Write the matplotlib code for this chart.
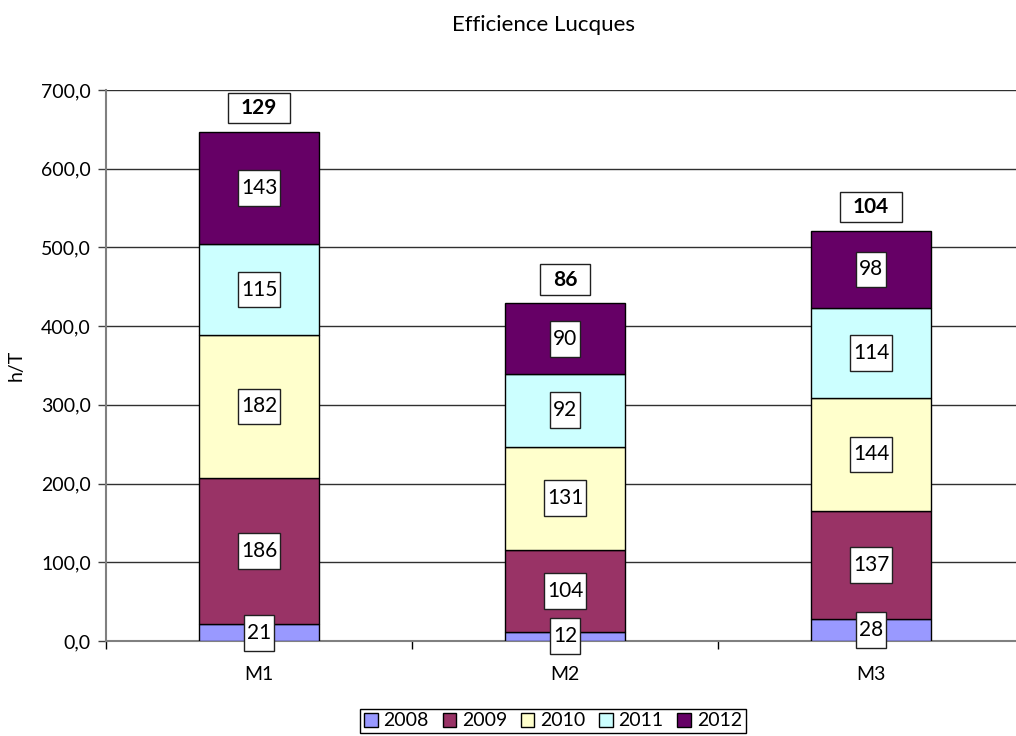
import numpy as np
import matplotlib.pyplot as plt
from matplotlib.path import Path
from matplotlib.ticker import FuncFormatter

plt.rcParams['font.family'] = ['Lato', 'DejaVu Sans']

# data
machines = ['M1', 'M2', 'M3']
years = ['2008', '2009', '2010', '2011', '2012']
values = {
    '2008': [21, 12, 28],
    '2009': [186, 104, 137],
    '2010': [182, 131, 144],
    '2011': [115, 92, 114],
    '2012': [143, 90, 98],
}
averages = [129, 86, 104]
colors = ['#9999FF', '#993366', '#FFFFCC', '#CCFFFF', '#660066']


def rect_box(px, py):
    # label box with different horizontal / vertical padding (like excel)
    def style(x0, y0, w, h, mutation_size):
        dx, dy = px * mutation_size, py * mutation_size
        x0, y0, x1, y1 = x0 - dx, y0 - dy, x0 + w + dx, y0 + h + dy
        return Path([(x0, y0), (x1, y0), (x1, y1), (x0, y1), (x0, y0)], closed=True)
    return style


fig = plt.figure(figsize=(10.16, 7.36), dpi=100)
ax = fig.add_axes([106/1016, 95/736, 918/1016, 551/736])

x = np.arange(len(machines))
bottom = np.zeros(len(machines))
for year, col in zip(years, colors):
    v = np.array(values[year], dtype=float)
    ax.bar(x, v, 0.395, bottom=bottom, color=col, edgecolor='black', lw=1,
           label=year, zorder=3)
    for xi, b, vi in zip(x, bottom, v):
        ax.text(xi, b + vi / 2, f'{vi:.0f}', ha='center', va='center', fontsize=15,
                bbox=dict(boxstyle=rect_box(0.12, 0.38), fc='white', ec='#202020', lw=1),
                zorder=5)
    bottom += v

# averages above each stack
for xi, tot, avg in zip(x, bottom, averages):
    ax.annotate(str(avg), (xi, tot), xytext=(0, 17), textcoords='offset points',
                ha='center', va='center', fontsize=15, fontweight='bold',
                bbox=dict(boxstyle=rect_box(0.6, 0.25), fc='white', ec='#202020', lw=1),
                zorder=5)

ax.set_xlim(-0.5, 2.5)
ax.set_ylim(0, 700)
ax.set_yticks(np.arange(0, 701, 100))
ax.yaxis.set_major_formatter(FuncFormatter(lambda v, p: f'{v:.1f}'.replace('.', ',')))
ax.grid(axis='y', color='#303030', lw=1, zorder=1)

ax.set_xticks(x)
ax.set_xticklabels(machines)
ax.set_xticks([-0.5, 0.5, 1.5, 2.5], minor=True)
ax.tick_params(axis='x', which='major', length=0, pad=18, labelsize=14)
ax.tick_params(axis='x', which='minor', length=6, width=1, color='black')
ax.tick_params(axis='y', length=6, width=1, color='#404040', pad=5, labelsize=14)

for s in ['top', 'right']:
    ax.spines[s].set_visible(False)
for s in ['left', 'bottom']:
    ax.spines[s].set_color('#808080')
    ax.spines[s].set_linewidth(1.5)

ax.set_ylabel('h/T', fontsize=14)
ax.yaxis.set_label_coords(-0.089, 0.5)

fig.text(544/1016, 1 - 25/736, 'Efficience Lucques', ha='center', va='center', fontsize=16)

leg = fig.legend(loc='center', bbox_to_anchor=(553/1016, 1 - 721/736), ncol=5,
                 fontsize=14, handlelength=0.7, handleheight=0.7, handletextpad=0.3,
                 columnspacing=0.7, borderpad=0.2, fancybox=False, framealpha=1)
leg.get_frame().set_edgecolor('black')
leg.get_frame().set_linewidth(1)

fig.savefig('out.png', dpi=100)
